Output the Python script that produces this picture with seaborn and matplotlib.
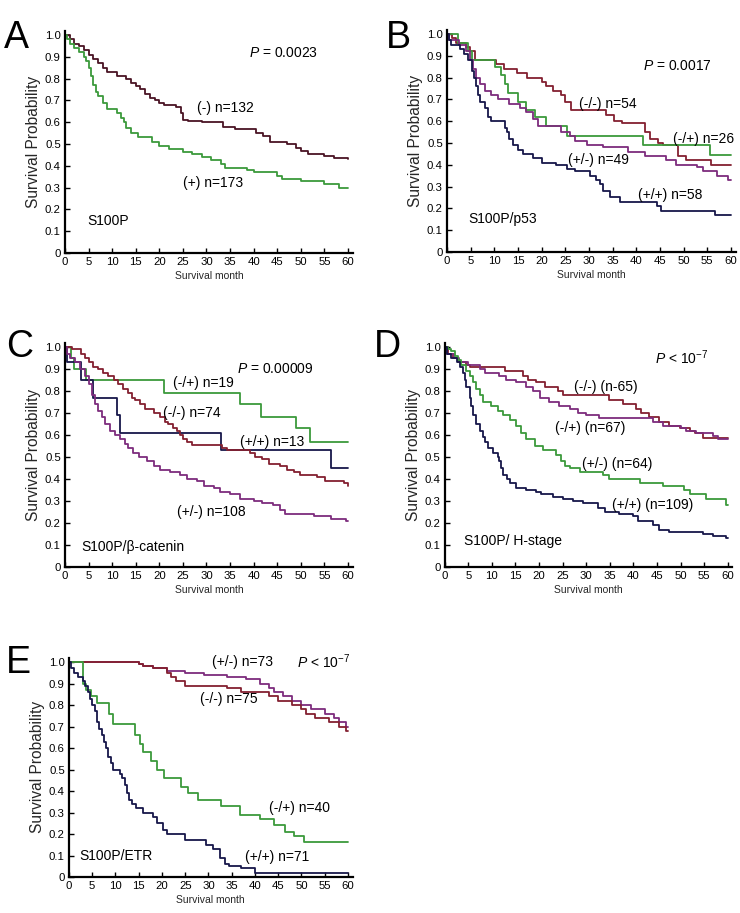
import numpy as np
import pandas as pd
import matplotlib
matplotlib.use("Agg")
import matplotlib.pyplot as plt
import seaborn as sns

# ---------------- data ----------------
# Panel A : S100P
A_neg_t = [0, 1, 2, 3, 4, 5, 6, 7, 8, 9, 11, 13, 14, 15, 16, 17, 18, 19, 20, 21, 23.5, 24.5, 25, 26, 29, 33.5, 36, 40.5, 42, 43.5, 47, 49, 50, 51.5, 55, 57, 60]
A_neg_s = [1.0, 0.98, 0.96, 0.95, 0.93, 0.91, 0.89, 0.87, 0.85, 0.83, 0.81, 0.80, 0.78, 0.765, 0.75, 0.73, 0.71, 0.70, 0.69, 0.68, 0.67, 0.64, 0.61, 0.605, 0.60, 0.58, 0.57, 0.55, 0.535, 0.51, 0.50, 0.48, 0.47, 0.455, 0.445, 0.435, 0.43]
A_pos_t = [0, 0.5, 1, 2, 3, 4, 4.5, 5, 5.5, 6, 6.5, 7, 8, 9, 11, 11.8, 12.5, 13, 14, 15.5, 18.5, 20, 22, 25, 27, 29, 31, 33, 34, 38.5, 40, 45, 46, 50, 55, 58, 60]
A_pos_s = [1.0, 0.98, 0.96, 0.94, 0.92, 0.90, 0.88, 0.85, 0.81, 0.77, 0.74, 0.72, 0.69, 0.66, 0.64, 0.62, 0.60, 0.575, 0.55, 0.53, 0.51, 0.49, 0.475, 0.465, 0.455, 0.44, 0.425, 0.41, 0.39, 0.38, 0.37, 0.355, 0.34, 0.33, 0.315, 0.30, 0.30]

# Panel B : S100P/p53
B_mm_t = [0, 1, 2, 4, 4.8, 6, 10.4, 12, 14.7, 17, 20, 21, 22.5, 24.2, 25, 26.3, 33.7, 35.4, 37, 41.8, 43, 44.6, 45.7, 48.9, 50.5, 55.8, 60]
B_mm_s = [1.0, 0.98, 0.96, 0.94, 0.92, 0.88, 0.86, 0.84, 0.82, 0.80, 0.78, 0.76, 0.74, 0.72, 0.69, 0.65, 0.63, 0.60, 0.59, 0.55, 0.52, 0.50, 0.49, 0.44, 0.42, 0.40, 0.40]
B_gr_t = [0, 2.3, 4.4, 5.2, 10.2, 11.5, 12.2, 12.8, 15, 16.8, 18.7, 21, 25.3, 41.5, 55.6, 60]
B_gr_s = [1.0, 0.96, 0.92, 0.88, 0.85, 0.81, 0.77, 0.73, 0.69, 0.65, 0.62, 0.58, 0.53, 0.49, 0.445, 0.445]
B_pu_t = [0, 0.5, 2.5, 4, 4.8, 5.5, 6.2, 6.9, 8, 9.4, 10.8, 13.2, 15.4, 16.8, 18.2, 19.3, 24.2, 26, 27, 29.5, 33, 38.3, 41.8, 46.4, 48.5, 52.8, 54.2, 57, 59.5, 60]
B_pu_s = [1.0, 0.97, 0.95, 0.92, 0.88, 0.84, 0.80, 0.77, 0.74, 0.72, 0.70, 0.68, 0.66, 0.64, 0.61, 0.58, 0.55, 0.53, 0.51, 0.49, 0.48, 0.46, 0.44, 0.42, 0.40, 0.39, 0.37, 0.35, 0.33, 0.33]
B_nv_t = [0, 0.5, 0.9, 2.7, 3.7, 4.4, 5.2, 5.8, 6.2, 6.5, 6.9, 8, 8.7, 9.4, 12.2, 12.7, 13.2, 14, 15, 16, 18.2, 20, 23.1, 25.3, 27, 30.2, 31.6, 32.3, 33, 34.4, 36.5, 44.3, 45.3, 56.6, 60]
B_nv_s = [1.0, 0.97, 0.95, 0.93, 0.91, 0.88, 0.83, 0.80, 0.76, 0.72, 0.69, 0.66, 0.62, 0.60, 0.57, 0.55, 0.52, 0.49, 0.47, 0.45, 0.43, 0.41, 0.40, 0.38, 0.37, 0.35, 0.33, 0.31, 0.28, 0.25, 0.23, 0.21, 0.19, 0.17, 0.17]

# Panel C : S100P/beta-catenin
C_gr_t = [0, 1.3, 2, 4.5, 21, 37.2, 41.5, 49, 52, 60]
C_gr_s = [1.0, 0.95, 0.90, 0.85, 0.79, 0.74, 0.68, 0.63, 0.57, 0.57]
C_nv_t = [0, 0.5, 3.5, 6, 11, 11.6, 33, 56.5, 60]
C_nv_s = [1.0, 0.93, 0.85, 0.77, 0.69, 0.61, 0.53, 0.45, 0.45]
C_mm_t = [0, 1.4, 3.5, 4.2, 5, 6, 7, 8.1, 9.2, 10.3, 11.3, 12.4, 13.4, 14.2, 14.9, 15.9, 17, 18.8, 20.2, 21.2, 21.9, 23, 23.7, 24.4, 25.1, 25.8, 26.9, 33.3, 34.3, 39.3, 40.3, 41.8, 43.2, 45.6, 47.1, 48.5, 49.9, 53.4, 55.2, 59.1, 60]
C_mm_s = [1.0, 0.99, 0.97, 0.95, 0.93, 0.91, 0.90, 0.88, 0.87, 0.85, 0.83, 0.81, 0.79, 0.77, 0.76, 0.74, 0.72, 0.70, 0.68, 0.66, 0.65, 0.63, 0.62, 0.60, 0.58, 0.57, 0.555, 0.54, 0.53, 0.52, 0.50, 0.49, 0.47, 0.46, 0.44, 0.43, 0.42, 0.41, 0.39, 0.38, 0.37]
C_pu_t = [0, 0.4, 1.1, 2.1, 3.2, 4.2, 5, 5.7, 6.4, 7.1, 7.8, 8.5, 9.6, 10.6, 11.7, 12.7, 13.4, 14.5, 15.6, 17.3, 18.8, 20.2, 22.3, 24.4, 25.8, 28, 29.4, 31.5, 32.9, 35, 37.2, 40, 41.8, 44.2, 45.6, 46.7, 52.7, 56.3, 59.5, 60]
C_pu_s = [1.0, 0.97, 0.95, 0.93, 0.90, 0.87, 0.83, 0.78, 0.74, 0.71, 0.68, 0.65, 0.62, 0.60, 0.58, 0.56, 0.54, 0.52, 0.50, 0.48, 0.46, 0.44, 0.43, 0.42, 0.40, 0.39, 0.37, 0.36, 0.34, 0.33, 0.31, 0.30, 0.29, 0.28, 0.26, 0.24, 0.23, 0.22, 0.21, 0.21]

# Panel D : S100P/H-stage
D_mm_t = [0, 0.7, 1.8, 2.8, 4.6, 5.3, 12.7, 16.6, 17.6, 19.4, 21.2, 24, 25, 34.9, 37.8, 40.6, 41.6, 43.4, 45.5, 47.6, 49.8, 51.9, 53, 54.7, 60]
D_mm_s = [1.0, 0.97, 0.95, 0.93, 0.92, 0.91, 0.89, 0.87, 0.85, 0.84, 0.82, 0.80, 0.78, 0.76, 0.74, 0.72, 0.70, 0.68, 0.66, 0.64, 0.63, 0.62, 0.61, 0.585, 0.585]
D_pu_t = [0, 0.5, 2, 3, 5, 7.4, 8.5, 11.6, 13, 15.2, 17.3, 18.7, 20.1, 22.2, 24.3, 26.5, 28.2, 30, 32.8, 44.1, 46.2, 50.1, 51.2, 53.3, 56.8, 57.9, 60]
D_pu_s = [1.0, 0.97, 0.95, 0.93, 0.92, 0.90, 0.88, 0.87, 0.85, 0.84, 0.82, 0.80, 0.77, 0.75, 0.73, 0.72, 0.70, 0.69, 0.675, 0.66, 0.64, 0.63, 0.62, 0.61, 0.595, 0.58, 0.58]
D_gr_t = [0, 0.7, 1.4, 2.1, 2.8, 3.5, 4.6, 5.3, 6, 6.7, 7.4, 8.1, 9.9, 11.3, 12.4, 13.8, 15.2, 16.2, 17.3, 19.1, 20.8, 23.6, 24.7, 25.4, 26.5, 28.6, 33.5, 34.9, 41.3, 46.2, 50.8, 51.9, 55.4, 59.6, 60]
D_gr_s = [1.0, 0.99, 0.98, 0.96, 0.94, 0.92, 0.89, 0.87, 0.84, 0.81, 0.78, 0.75, 0.73, 0.71, 0.69, 0.67, 0.64, 0.61, 0.58, 0.55, 0.53, 0.51, 0.48, 0.46, 0.45, 0.43, 0.42, 0.40, 0.38, 0.37, 0.35, 0.33, 0.31, 0.28, 0.28]
D_nv_t = [0, 0.4, 1.4, 2.5, 3.2, 3.9, 4.2, 4.6, 5.3, 5.6, 6, 6.7, 7.4, 8.1, 8.5, 9.2, 10.2, 11.3, 11.6, 12, 12.4, 13.1, 13.8, 15.2, 17.3, 19.4, 20.5, 22.9, 25, 27.2, 29.3, 32.5, 34, 37, 40, 41, 44.1, 45.5, 47.6, 54.7, 56.8, 59.6, 60]
D_nv_s = [1.0, 0.97, 0.95, 0.93, 0.91, 0.88, 0.85, 0.82, 0.77, 0.73, 0.69, 0.65, 0.62, 0.59, 0.57, 0.54, 0.52, 0.50, 0.48, 0.45, 0.42, 0.40, 0.38, 0.36, 0.35, 0.34, 0.33, 0.32, 0.31, 0.30, 0.29, 0.27, 0.25, 0.24, 0.23, 0.21, 0.19, 0.17, 0.16, 0.15, 0.14, 0.13, 0.13]

# Panel E : S100P/ETR
E_pu_t = [0, 15, 16, 18, 21, 25, 29, 34, 38, 41, 43, 44, 46, 48, 50, 52, 55, 57, 58, 59.5, 60]
E_pu_s = [1.0, 0.99, 0.98, 0.97, 0.96, 0.95, 0.94, 0.93, 0.92, 0.90, 0.88, 0.86, 0.84, 0.82, 0.80, 0.78, 0.76, 0.74, 0.72, 0.70, 0.70]
E_mm_t = [0, 15, 16, 18, 21, 22, 23, 25, 34, 37, 43, 45, 48, 50, 51, 53, 56, 58, 59.5, 60]
E_mm_s = [1.0, 0.99, 0.98, 0.97, 0.95, 0.93, 0.91, 0.89, 0.88, 0.86, 0.84, 0.82, 0.80, 0.78, 0.76, 0.74, 0.72, 0.70, 0.68, 0.68]
E_gr_t = [0, 3, 3.6, 4.7, 6.0, 8.7, 9.5, 14.1, 15.2, 15.9, 17.7, 19.0, 20.5, 24.2, 25.6, 27.7, 32.8, 36.7, 41, 44.2, 46.4, 48.5, 50.5, 60]
E_gr_s = [1.0, 0.90, 0.87, 0.84, 0.81, 0.76, 0.71, 0.66, 0.62, 0.58, 0.54, 0.50, 0.46, 0.42, 0.39, 0.36, 0.33, 0.29, 0.27, 0.24, 0.21, 0.19, 0.165, 0.165]
E_nv_t = [0, 0.5, 1, 2, 3, 3.5, 4, 4.5, 5, 5.5, 6, 6.5, 7, 7.5, 8, 8.5, 9, 9.5, 11, 11.5, 12, 12.5, 13, 13.5, 14.5, 16, 18, 19, 20.2, 21, 25, 29.5, 31, 32.5, 33.5, 34.5, 37, 40, 60]
E_nv_s = [1.0, 0.97, 0.95, 0.93, 0.91, 0.89, 0.86, 0.83, 0.80, 0.77, 0.72, 0.69, 0.66, 0.63, 0.60, 0.56, 0.53, 0.50, 0.48, 0.46, 0.43, 0.39, 0.36, 0.34, 0.32, 0.30, 0.28, 0.25, 0.22, 0.20, 0.17, 0.15, 0.13, 0.09, 0.06, 0.05, 0.04, 0.02, 0.02]

x_ticks = [0, 5, 10, 15, 20, 25, 30, 35, 40, 45, 50, 55, 60]
y_ticks = [0, 0.1, 0.2, 0.3, 0.4, 0.5, 0.6, 0.7, 0.8, 0.9, 1.0]
y_ticklabels = ["0", "0.1", "0.2", "0.3", "0.4", "0.5", "0.6", "0.7", "0.8", "0.9", "1.0"]

# ---------------- style ----------------
MAROON_DARK = "#4a1424"
MAROON = "#842030"
GREEN = "#3c9a3c"
PURPLE = "#7d2c7d"
NAVY = "#17174a"

sns.set_style("ticks")
plt.rcParams["font.family"] = ["Liberation Sans", "DejaVu Sans"]
plt.rcParams["mathtext.fontset"] = "custom"
plt.rcParams["mathtext.rm"] = "Liberation Sans"
plt.rcParams["mathtext.it"] = "Liberation Sans:italic"

fig = plt.figure(figsize=(7.4, 9.13), dpi=100)

panels = [
    dict(letter="A", rect=[0.0878, 0.7229, 0.3888, 0.2436], letter_xy=(0.005, 0.978),
         curves=[("(-)", A_neg_t, A_neg_s, MAROON_DARK), ("(+)", A_pos_t, A_pos_s, GREEN)],
         texts=[(r"$\it{P}$ = 0.0023", 39, 0.915), ("(-) n=132", 28, 0.665),
                ("(+) n=173", 25, 0.32), ("S100P", 4.7, 0.145)]),
    dict(letter="B", rect=[0.604, 0.724, 0.390, 0.2436], letter_xy=(0.521, 0.978),
         curves=[("(-/-)", B_mm_t, B_mm_s, MAROON), ("(-/+)", B_gr_t, B_gr_s, GREEN),
                 ("(+/-)", B_pu_t, B_pu_s, PURPLE), ("(+/+)", B_nv_t, B_nv_s, NAVY)],
         texts=[(r"$\it{P}$ = 0.0017", 41.4, 0.853), ("(-/-) n=54", 27.9, 0.68),
                ("(-/+) n=26", 47.8, 0.52), ("(+/-) n=49", 25.6, 0.42),
                ("(+/+) n=58", 40.3, 0.26), ("S100P/p53", 4.6, 0.15)]),
    dict(letter="C", rect=[0.0878, 0.379, 0.3888, 0.2458], letter_xy=(0.008, 0.640),
         curves=[("(-/+)", C_gr_t, C_gr_s, GREEN), ("(+/+)", C_nv_t, C_nv_s, NAVY),
                 ("(-/-)", C_mm_t, C_mm_s, MAROON), ("(+/-)", C_pu_t, C_pu_s, PURPLE)],
         texts=[(r"$\it{P}$ = 0.00009", 36.5, 0.90), ("(-/+) n=19", 22.9, 0.835),
                ("(-/-) n=74", 20.8, 0.70), ("(+/+) n=13", 37.2, 0.57),
                ("(+/-) n=108", 23.7, 0.25), ("S100P/β-catenin", 3.4, 0.09)]),
    dict(letter="D", rect=[0.601, 0.379, 0.3888, 0.2458], letter_xy=(0.505, 0.640),
         curves=[("(-/-)", D_mm_t, D_mm_s, MAROON), ("(-/+)", D_pu_t, D_pu_s, PURPLE),
                 ("(+/-)", D_gr_t, D_gr_s, GREEN), ("(+/+)", D_nv_t, D_nv_s, NAVY)],
         texts=[(r"$\it{P}$ < 10$^{-7}$", 44.5, 0.95), ("(-/-) (n-65)", 27.3, 0.82),
                ("(-/+) (n=67)", 23.3, 0.63), ("(+/-) (n=64)", 29, 0.47),
                ("(+/+) (n=109)", 35.4, 0.28), ("S100P/ H-stage", 4, 0.12)]),
    dict(letter="E", rect=[0.0932, 0.0394, 0.3833, 0.2402], letter_xy=(0.008, 0.294),
         curves=[("(+/-)", E_pu_t, E_pu_s, PURPLE), ("(-/-)", E_mm_t, E_mm_s, MAROON),
                 ("(-/+)", E_gr_t, E_gr_s, GREEN), ("(+/+)", E_nv_t, E_nv_s, NAVY)],
         texts=[("(+/-) n=73", 30.7, 1.0), (r"$\it{P}$ < 10$^{-7}$", 49, 1.0),
                ("(-/-) n=75", 28.2, 0.83), ("(-/+) n=40", 43, 0.32),
                ("(+/+) n=71", 37.8, 0.093), ("S100P/ETR", 2.2, 0.10)]),
]

for p in panels:
    ax = fig.add_axes(p["rect"])
    frames = []
    palette = {}
    for name, t, s, col in p["curves"]:
        frames.append(pd.DataFrame({"month": t, "surv": s, "group": name}))
        palette[name] = col
    df = pd.concat(frames, ignore_index=True)
    sns.lineplot(data=df, x="month", y="surv", hue="group", palette=palette,
                 estimator=None, units="group", drawstyle="steps-post",
                 linewidth=1.3, legend=False, ax=ax, sort=True)
    ax.set_xlim(0, 61)
    ax.set_ylim(0, 1.02)
    ax.set_xticks(x_ticks)
    ax.set_xticklabels([str(v) for v in x_ticks])
    ax.set_yticks(y_ticks)
    ax.set_yticklabels(y_ticklabels)
    ax.tick_params(direction="in", length=3.5, width=1, labelsize=8.2, pad=3, colors="black")
    for side in ("top", "right"):
        ax.spines[side].set_visible(False)
    for side in ("left", "bottom"):
        ax.spines[side].set_linewidth(1.6)
        ax.spines[side].set_color("black")
    ax.set_xlabel("Survival month", fontsize=7.5, labelpad=3)
    ax.set_ylabel("Survival Probability", fontsize=11.2, labelpad=3)
    for txt, x, y in p["texts"]:
        ax.text(x, y, txt, fontsize=10, ha="left", va="center", color="black")
    fig.text(p["letter_xy"][0], p["letter_xy"][1], p["letter"], fontsize=27,
             ha="left", va="top", color="black")

fig.savefig("out.png", dpi=100)
